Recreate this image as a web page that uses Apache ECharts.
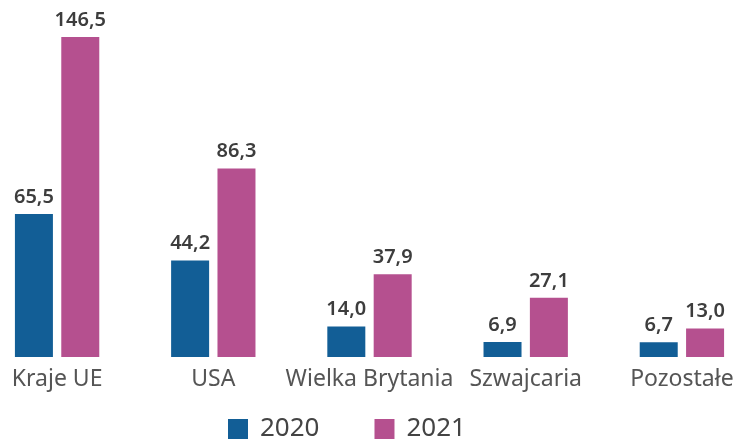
<!DOCTYPE html>
<html>
<head>
<meta charset="utf-8">
<script src="https://cdn.jsdelivr.net/npm/echarts@6/dist/echarts.min.js"></script>
<style>
  html, body { margin: 0; padding: 0; background: #fff; overflow: hidden; }
  #wrap { width: 743px; height: 442px; overflow: hidden; position: relative; }
  /* category band is wider than the page, so the canvas sticks out a bit on both sides */
  #chart { width: 781px; height: 442px; position: absolute; left: -21px; top: 0; }
</style>
</head>
<body>
<div id="wrap"><div id="chart"></div></div>
<script>
var categories = ['Kraje UE', 'USA', 'Wielka Brytania', 'Szwajcaria', 'Pozostałe'];
var values2020 = [65.5, 44.2, 14.0, 6.9, 6.7];
var values2021 = [146.5, 86.3, 37.9, 27.1, 13.0];
var seriesNames = ['2020', '2021'];

var chart = echarts.init(document.getElementById('chart'));

function fmt(p) {
  return p.value.toFixed(1).replace('.', ',');
}

var labelStyle = {
  show: true,
  position: 'top',
  distance: 7,
  color: '#3d3d3d',
  fontFamily: 'Noto Sans',
  fontWeight: 600,
  fontSize: 20,
  formatter: fmt
};

chart.setOption({
  animation: false,
  grid: {
    left: 0,
    right: 0,
    top: 37,
    bottom: 85
  },
  legend: {
    data: seriesNames,
    top: 416,
    left: 249,
    padding: 0,
    itemWidth: 20,
    itemHeight: 20,
    itemGap: 55,
    icon: 'rect',
    textStyle: {
      color: '#444',
      fontFamily: 'Noto Sans',
      fontSize: 26,
      padding: [0, 0, 0, 7]
    }
  },
  xAxis: {
    type: 'category',
    data: categories,
    axisLine: { show: false },
    axisTick: { show: false },
    axisLabel: {
      color: '#555',
      fontFamily: 'Noto Sans',
      fontSize: 23,
      margin: 11,
      interval: 0
    }
  },
  yAxis: {
    type: 'value',
    min: 0,
    max: 146.5,
    show: false,
    splitLine: { show: false }
  },
  series: [
    {
      name: seriesNames[0],
      type: 'bar',
      barWidth: 38,
      barGap: '22%',
      itemStyle: { color: '#125E96' },
      label: labelStyle,
      data: values2020
    },
    {
      name: seriesNames[1],
      type: 'bar',
      barWidth: 38,
      itemStyle: { color: '#B5508F' },
      label: labelStyle,
      data: values2021
    }
  ]
});
</script>
</body>
</html>
